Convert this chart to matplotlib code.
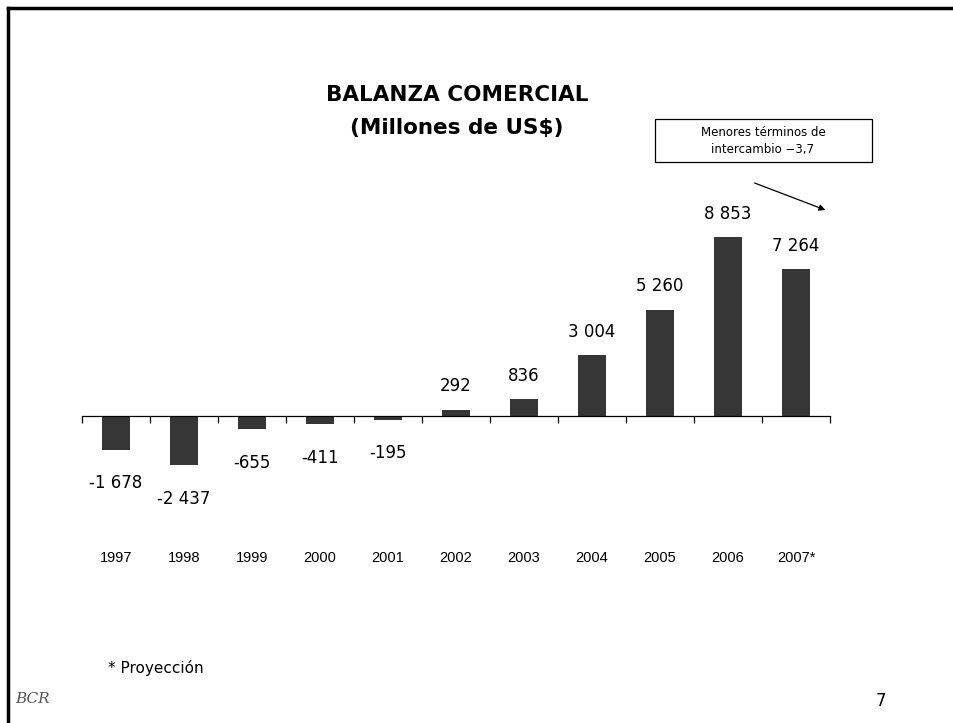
import matplotlib
matplotlib.use("Agg")
import matplotlib.pyplot as plt
from matplotlib.lines import Line2D
import numpy as np

years = ["1997", "1998", "1999", "2000", "2001", "2002", "2003", "2004", "2005", "2006", "2007*"]
balance = [-1678, -2437, -655, -411, -195, 292, 836, 3004, 5260, 8853, 7264]
value_labels = ["-1 678", "-2 437", "-655", "-411", "-195", "292", "836", "3 004", "5 260", "8 853", "7 264"]

W, H = 954, 723
fig = plt.figure(figsize=(W / 100, H / 100), dpi=100)

def fx(px):
    return px / W

def fy(py):
    return 1 - py / H

# slide border (top and left)
fig.add_artist(Line2D([fx(8), fx(954)], [fy(8), fy(8)], color="black", lw=2.5, transform=fig.transFigure))
fig.add_artist(Line2D([fx(8), fx(8)], [fy(8), fy(723)], color="black", lw=2.5, transform=fig.transFigure))

# axes: zero at y=416 px, 0.0202 px per unit
ymin, ymax = -3000, 9500
scale = 0.0202
top_px = 416 - ymax * scale
bot_px = 416 - ymin * scale
ax = fig.add_axes([fx(82), fy(bot_px), fx(830) - fx(82), (bot_px - top_px) / H])
x = np.arange(len(years))
ax.bar(x, balance, width=0.4, color="#363636", zorder=2)
ax.set_xlim(-0.5, len(years) - 0.5)
ax.set_ylim(ymin, ymax)
for s in ["top", "right", "left"]:
    ax.spines[s].set_visible(False)
ax.spines["bottom"].set_position(("data", 0))
ax.spines["bottom"].set_linewidth(0.9)
ax.set_yticks([])
ax.set_xticks(x)
ax.set_xticklabels(years, fontfamily="Liberation Sans", fontsize=10.5)
ax.tick_params(axis="x", which="major", length=0, pad=97)
ax.set_xticks(np.arange(-0.5, len(years), 1.0), minor=True)
ax.tick_params(axis="x", which="minor", length=5, width=0.9, direction="out")

for xi, v, lab in zip(x, balance, value_labels):
    if v >= 0:
        ax.annotate(lab, (xi, v), xytext=(0, 17), textcoords="offset points",
                    ha="center", va="center", fontsize=12, fontfamily="DejaVu Sans")
    else:
        ax.annotate(lab, (xi, v), xytext=(0, -24), textcoords="offset points",
                    ha="center", va="center", fontsize=12, fontfamily="DejaVu Sans")

# title
fig.text(fx(457), fy(95), "BALANZA COMERCIAL", ha="center", va="center",
         fontsize=15.5, fontweight="bold", fontfamily="DejaVu Sans")
fig.text(fx(457), fy(128), "(Millones de US$)", ha="center", va="center",
         fontsize=15.5, fontweight="bold", fontfamily="DejaVu Sans")

# note box
fig.add_artist(plt.Rectangle((fx(655), fy(162)), fx(872) - fx(655), (162 - 119) / H,
                             fill=False, edgecolor="black", lw=0.9, transform=fig.transFigure))
fig.text(fx(763), fy(133), "Menores términos de", ha="center", va="center",
         fontsize=8.5, fontfamily="DejaVu Sans")
fig.text(fx(763), fy(149), "intercambio \u22123,7", ha="center", va="center",
         fontsize=8.5, fontfamily="DejaVu Sans")
fig.add_artist(matplotlib.patches.FancyArrowPatch((fx(752), fy(182)), (fx(828), fy(211)),
               transform=fig.transFigure, arrowstyle="-|>", mutation_scale=9,
               color="black", lw=0.9))

fig.text(fx(108), fy(668), "* Proyección", ha="left", va="center",
         fontsize=11, fontfamily="DejaVu Sans")
fig.text(fx(881), fy(701), "7", ha="center", va="center",
         fontsize=12, fontfamily="DejaVu Sans")

# logo placeholder (monogram)
fig.text(fx(33), fy(699), "BCR", ha="center", va="center", fontsize=11,
         fontfamily="DejaVu Serif", fontstyle="italic", color="#555555")

fig.savefig("out.png", dpi=100)
